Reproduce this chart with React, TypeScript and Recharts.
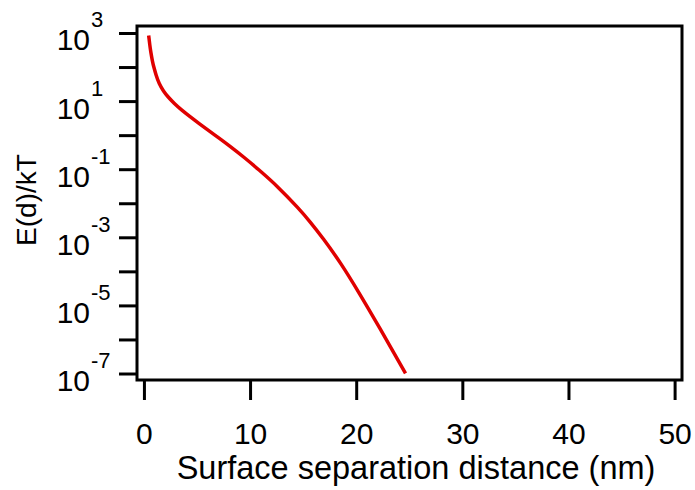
import React from 'react';
import { LineChart, Line, XAxis, YAxis, ReferenceArea } from 'recharts';

const distanceNm = [0.4, 0.5, 0.6, 0.75, 0.9, 1.1, 1.4, 1.8, 2.2, 2.8, 3.5, 4.3, 5.1, 5.9, 7.0, 8.1, 9.4, 10.8, 12.6, 14.4, 15.6, 16.9, 18.5, 20.3, 22.2, 24.6];
const energyKT = [871, 479, 288, 158, 100, 60.3, 33.9, 20.4, 14.1, 8.95, 5.7, 3.6, 2.33, 1.53, 0.861, 0.476, 0.228, 0.0977, 0.0302, 0.00794, 0.00295, 0.000891, 0.000174, 0.0000219, 0.00000214, 0.000000105];

const xTicks = [0, 10, 20, 30, 40, 50];
const yExponents = [-7, -6, -5, -4, -3, -2, -1, 0, 1, 2, 3];
const labeledExponents = [-7, -5, -3, -1, 1, 3];

const xTitle = 'Surface separation distance (nm)';
const yTitle = 'E(d)/kT';

const data = distanceNm.map((d, i) => ({ d, e: energyKT[i] }));
const yTicks = yExponents.map((p) => Math.pow(10, p));

const X_MIN = -0.7;
const X_MAX = 50.65;
const Y_MIN = Math.pow(10, -7.176);
const Y_MAX = Math.pow(10, 3.22);

const FONT = '"Liberation Sans", Arial, sans-serif';

const YTick = (props: any) => {
  const { x, y, payload } = props;
  const p = Math.round(Math.log10(payload.value));
  if (!labeledExponents.includes(p)) return null;
  const right = x - 27;
  return (
    <g>
      <text x={right} y={y + 17} textAnchor="end" fontSize={30} fontFamily={FONT} fill="#000">10</text>
      <text x={right + 1} y={y - 6} textAnchor="start" fontSize={22} fontFamily={FONT} fill="#000">{String(p)}</text>
    </g>
  );
};

const XTick = (props: any) => {
  const { x, y, payload } = props;
  return (
    <text x={x} y={y + 42} textAnchor="middle" fontSize={30} fontFamily={FONT} fill="#000">{String(payload.value)}</text>
  );
};

const XTitle = () => (
  <text x={416} y={479} textAnchor="middle" fontSize={32.5} fontFamily={FONT} fill="#000">{xTitle}</text>
);

const YTitle = () => (
  <text x={0} y={0} transform="translate(36, 200) rotate(-90)" textAnchor="middle" fontSize={28} fontFamily={FONT} fill="#000">{yTitle}</text>
);

export default function App() {
  return (
    <div style={{ width: 695, height: 490, background: '#fff', overflow: 'hidden' }}>
      <style>{'html,body{margin:0;padding:0;overflow:hidden;background:#fff}'}</style>
      <LineChart width={695} height={490} data={data} margin={{ top: 26, right: 13, bottom: 30, left: 0 }}>
        <XAxis
          dataKey="d"
          type="number"
          domain={[X_MIN, X_MAX]}
          ticks={xTicks}
          allowDataOverflow
          height={80}
          axisLine={false}
          tickSize={20}
          tickLine={{ stroke: '#000', strokeWidth: 3 }}
          tick={<XTick />}
          interval={0}
          label={<XTitle />}
        />
        <YAxis
          dataKey="e"
          scale="log"
          type="number"
          domain={[Y_MIN, Y_MAX]}
          ticks={yTicks}
          allowDataOverflow
          width={137}
          axisLine={false}
          tickSize={18}
          tickLine={{ stroke: '#000', strokeWidth: 3 }}
          tick={<YTick />}
          interval={0}
          label={<YTitle />}
        />
        <ReferenceArea x1={X_MIN} x2={X_MAX} y1={Y_MIN} y2={Y_MAX} fill="none" stroke="#000" strokeWidth={3} ifOverflow="visible" />
        <Line type="natural" dataKey="e" stroke="#e00000" strokeWidth={3.5} dot={false} isAnimationActive={false} />
      </LineChart>
    </div>
  );
}
